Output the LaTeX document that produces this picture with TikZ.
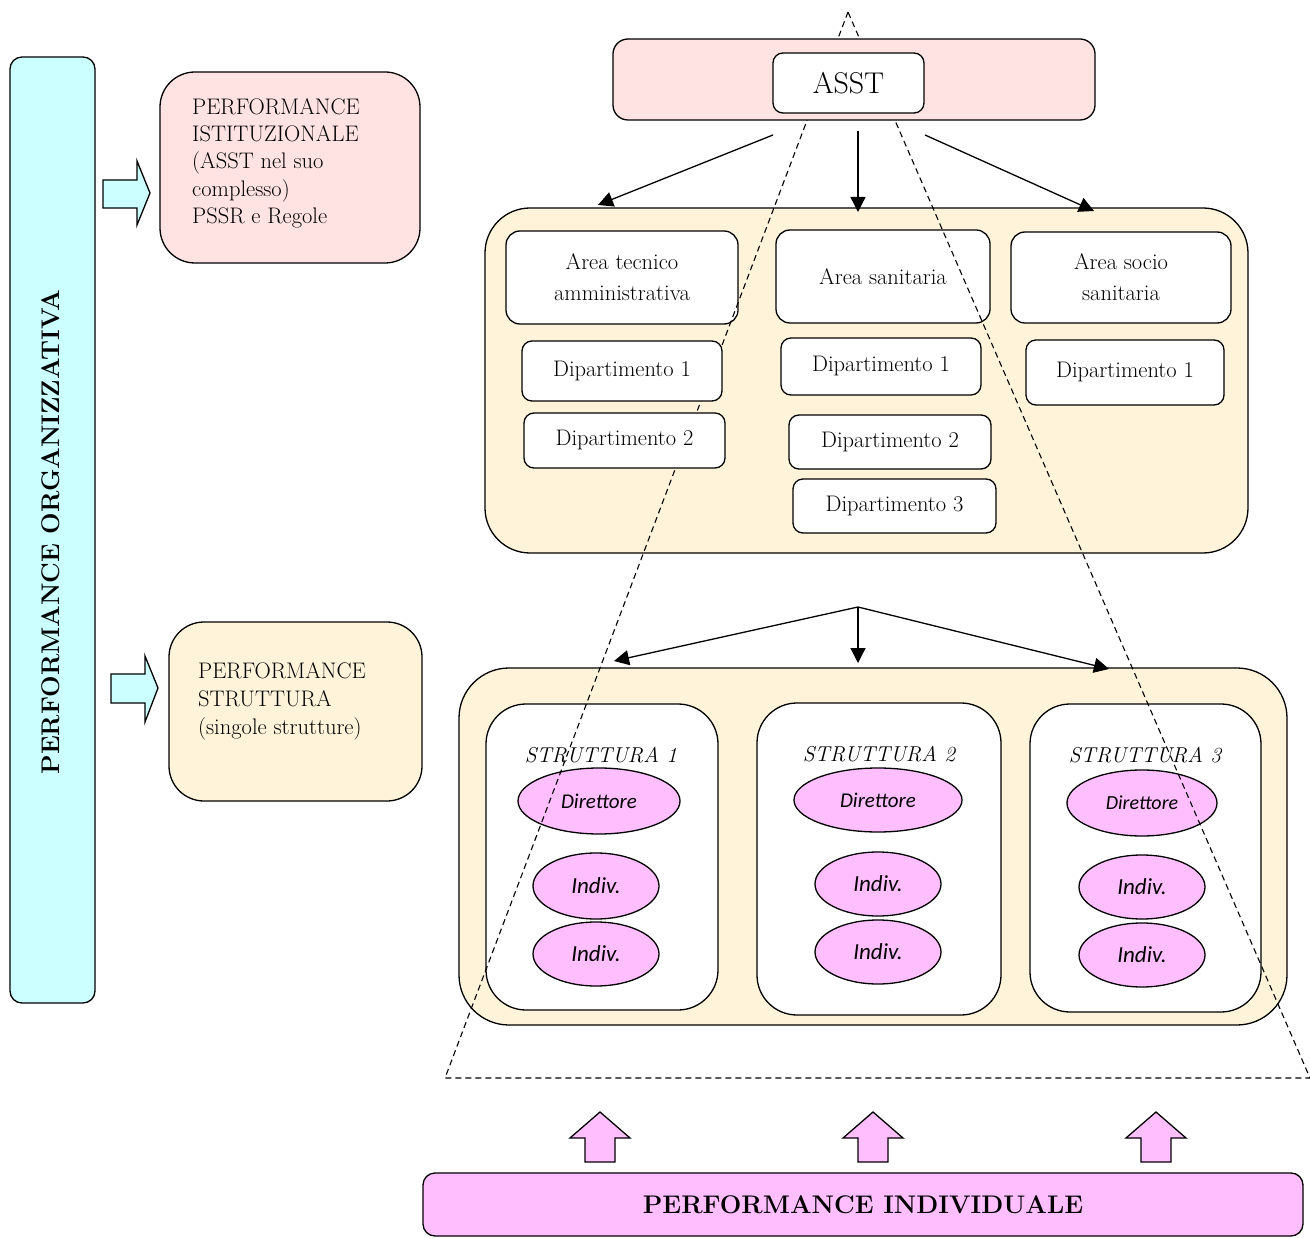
\documentclass[tikz,border=0pt]{standalone}
\usepackage{fontspec}
\newfontfamily\calib{Carlito}
\usetikzlibrary{arrows.meta,shapes.geometric}
\definecolor{cyanf}{HTML}{CCFFFF}
\definecolor{pinkf}{HTML}{FFE2E2}
\definecolor{beigef}{HTML}{FFF3DA}
\definecolor{magf}{HTML}{FFBFFF}
\tikzset{
  box/.style={draw=black, line width=1.3pt, rounded corners=#1, inner sep=0pt, align=center},
  box/.default=10pt,
  serifmid/.style={font=\fontsize{22.5}{31}\selectfont},
  ell/.style={draw=black, line width=1.3pt, ellipse, fill=magf, inner sep=0pt},
  conn/.style={line width=1.3pt, -{Triangle[length=15pt,width=15pt]}},
  blockarrow/.style={draw=black, line width=1.3pt, line join=miter},
  frame/.style={line width=1.1pt, dash pattern=on 6pt off 4pt},
}
\begin{document}
\begin{tikzpicture}[x=1pt,y=-1pt]
\useasboundingbox[fill=white] (0,0) rectangle (1310,1238);

% left column
\node[box=12pt, fill=cyanf, minimum width=85pt, minimum height=946pt] (org) at (52.5,530) {};
\node[rotate=90, font=\fontsize{25.5}{28}\selectfont\bfseries] (orgt) at (51,532) {PERFORMANCE ORGANIZZATIVA};

\node[box=35pt, fill=pinkf, minimum width=260pt, minimum height=191pt] (ist) at (290,167.5) {};
\node[anchor=north west, align=left, inner sep=0pt, font=\fontsize{22.5}{27.3}\selectfont] (istt) at (192,98) {PERFORMANCE\\ISTITUZIONALE\\(ASST nel suo\\complesso)\\PSSR e Regole};

\node[box=35pt, fill=beigef, minimum width=253pt, minimum height=179pt] (str) at (295.5,711.5) {};
\node[anchor=north west, align=left, inner sep=0pt, font=\fontsize{22.5}{28}\selectfont] (strt) at (198,662) {PERFORMANCE\\STRUTTURA\\(singole strutture)};

\draw[blockarrow, fill=cyanf] (103,180) -- (137,180) -- (137,161) -- (150,193) -- (137,225) -- (137,208) -- (103,208) -- cycle;
\draw[blockarrow, fill=cyanf] (111,674) -- (145,674) -- (145,656) -- (158,688) -- (145,722) -- (145,703) -- (111,703) -- cycle;

% areas
\node[box=45pt, fill=beigef, minimum width=763pt, minimum height=345pt] (aree) at (866.5,380.5) {};
\node[box=14pt, fill=white, minimum width=232pt, minimum height=93pt, serifmid] (ata) at (622,277.5) {Area tecnico\\amministrativa};
\node[box=14pt, fill=white, minimum width=214pt, minimum height=93pt, serifmid] (as) at (883,276.5) {Area sanitaria};
\node[box=14pt, fill=white, minimum width=220pt, minimum height=91pt, serifmid] (ass) at (1121,277.5) {Area socio\\sanitaria};

% structures
\node[box=50pt, fill=beigef, minimum width=828pt, minimum height=357pt] (strs) at (873,846.5) {};
\node[box=40pt, fill=white, minimum width=232pt, minimum height=306pt] (s1) at (602,857) {};
\node[box=40pt, fill=white, minimum width=244pt, minimum height=312pt] (s2) at (879,859) {};
\node[box=40pt, fill=white, minimum width=231pt, minimum height=308pt] (s3) at (1145.5,858) {};
\node[font=\fontsize{21.5}{24}\selectfont\itshape] (s1t) at (601,755) {STRUTTURA 1};
\node[font=\fontsize{21.5}{24}\selectfont\itshape] (s2t) at (879,754) {STRUTTURA 2};
\node[font=\fontsize{21.5}{24}\selectfont\itshape] (s3t) at (1145,755) {STRUTTURA 3};

\node[ell, minimum width=162pt, minimum height=66pt, font=\calib\itshape\fontsize{21}{24}\selectfont] (dir1) at (599,801) {Direttore};
\node[ell, minimum width=168pt, minimum height=64pt, font=\calib\itshape\fontsize{21}{24}\selectfont] (dir2) at (878,800) {Direttore};
\node[ell, minimum width=150pt, minimum height=66pt, font=\calib\itshape\fontsize{20}{24}\selectfont] (dir3) at (1142,803) {Direttore};
\node[ell, minimum width=126pt, minimum height=66pt, font=\calib\itshape\fontsize{23}{24}\selectfont] (i11) at (596,886) {Indiv.};
\node[ell, minimum width=126pt, minimum height=64pt, font=\calib\itshape\fontsize{23}{24}\selectfont] (i12) at (596,954) {Indiv.};
\node[ell, minimum width=126pt, minimum height=64pt, font=\calib\itshape\fontsize{23}{24}\selectfont] (i21) at (878,884) {Indiv.};
\node[ell, minimum width=126pt, minimum height=64pt, font=\calib\itshape\fontsize{23}{24}\selectfont] (i22) at (878,952) {Indiv.};
\node[ell, minimum width=126pt, minimum height=64pt, font=\calib\itshape\fontsize{23}{24}\selectfont] (i31) at (1142,887) {Indiv.};
\node[ell, minimum width=126pt, minimum height=64pt, font=\calib\itshape\fontsize{23}{24}\selectfont] (i32) at (1142,955) {Indiv.};

% dashed pyramid
\coordinate (apex) at (848,12);
\coordinate (bl) at (445,1078);
\coordinate (br) at (1310,1078);
\draw[frame] (apex) -- (bl) -- (br) -- cycle;

% departments (above the dashed lines)
\node[box=10pt, fill=white, minimum width=200pt, minimum height=60pt, serifmid] (d1a) at (622,371) {Dipartimento 1};
\node[box=10pt, fill=white, minimum width=201pt, minimum height=55pt, serifmid] (d2a) at (624.5,440.5) {Dipartimento 2};
\node[box=10pt, fill=white, minimum width=200pt, minimum height=57pt, serifmid] (d1b) at (881,366.5) {Dipartimento 1};
\node[box=10pt, fill=white, minimum width=202pt, minimum height=54pt, serifmid] (d2b) at (890,442) {Dipartimento 2};
\node[box=10pt, fill=white, minimum width=203pt, minimum height=54pt, serifmid] (d3b) at (894.5,506) {Dipartimento 3};
\node[box=10pt, fill=white, minimum width=198pt, minimum height=65pt, serifmid] (d1c) at (1125,372.5) {Dipartimento 1};

% ASST
\node[box=15pt, fill=pinkf, minimum width=482pt, minimum height=81pt] (asstbg) at (854,79.5) {};
\node[box=10pt, fill=white, minimum width=151pt, minimum height=60pt, font=\fontsize{30}{32}\selectfont] (asst) at (848.5,83) {ASST};

% connectors from ASST
\coordinate (o1) at (773,135);
\coordinate (o2) at (858,131);
\coordinate (o3) at (925,135);
\coordinate (e1) at (598,205);
\coordinate (e2) at (858,212);
\coordinate (e3) at (1094,211);
\draw[conn] (o1) -- (e1);
\draw[conn] (o2) -- (e2);
\draw[conn] (o3) -- (e3);

\coordinate (hub) at (858,607);
\coordinate (f1) at (614,661);
\coordinate (f2) at (858,663);
\coordinate (f3) at (1109,669);
\draw[conn] (hub) -- (f1);
\draw[conn] (hub) -- (f2);
\draw[conn] (hub) -- (f3);

% individual performance
\node[box=12pt, fill=magf, minimum width=880pt, minimum height=63pt, font=\fontsize{25.5}{28}\selectfont\bfseries] (ind) at (863,1204.5) {PERFORMANCE INDIVIDUALE};
\foreach \cx/\nm in {600/u1, 873/u2, 1156/u3}{
  \draw[blockarrow, fill=magf] (\cx-15,1162) -- (\cx-15,1138) -- (\cx-30,1138) -- (\cx,1112) -- (\cx+30,1138) -- (\cx+15,1138) -- (\cx+15,1162) -- cycle;
}
\end{tikzpicture}
\end{document}
